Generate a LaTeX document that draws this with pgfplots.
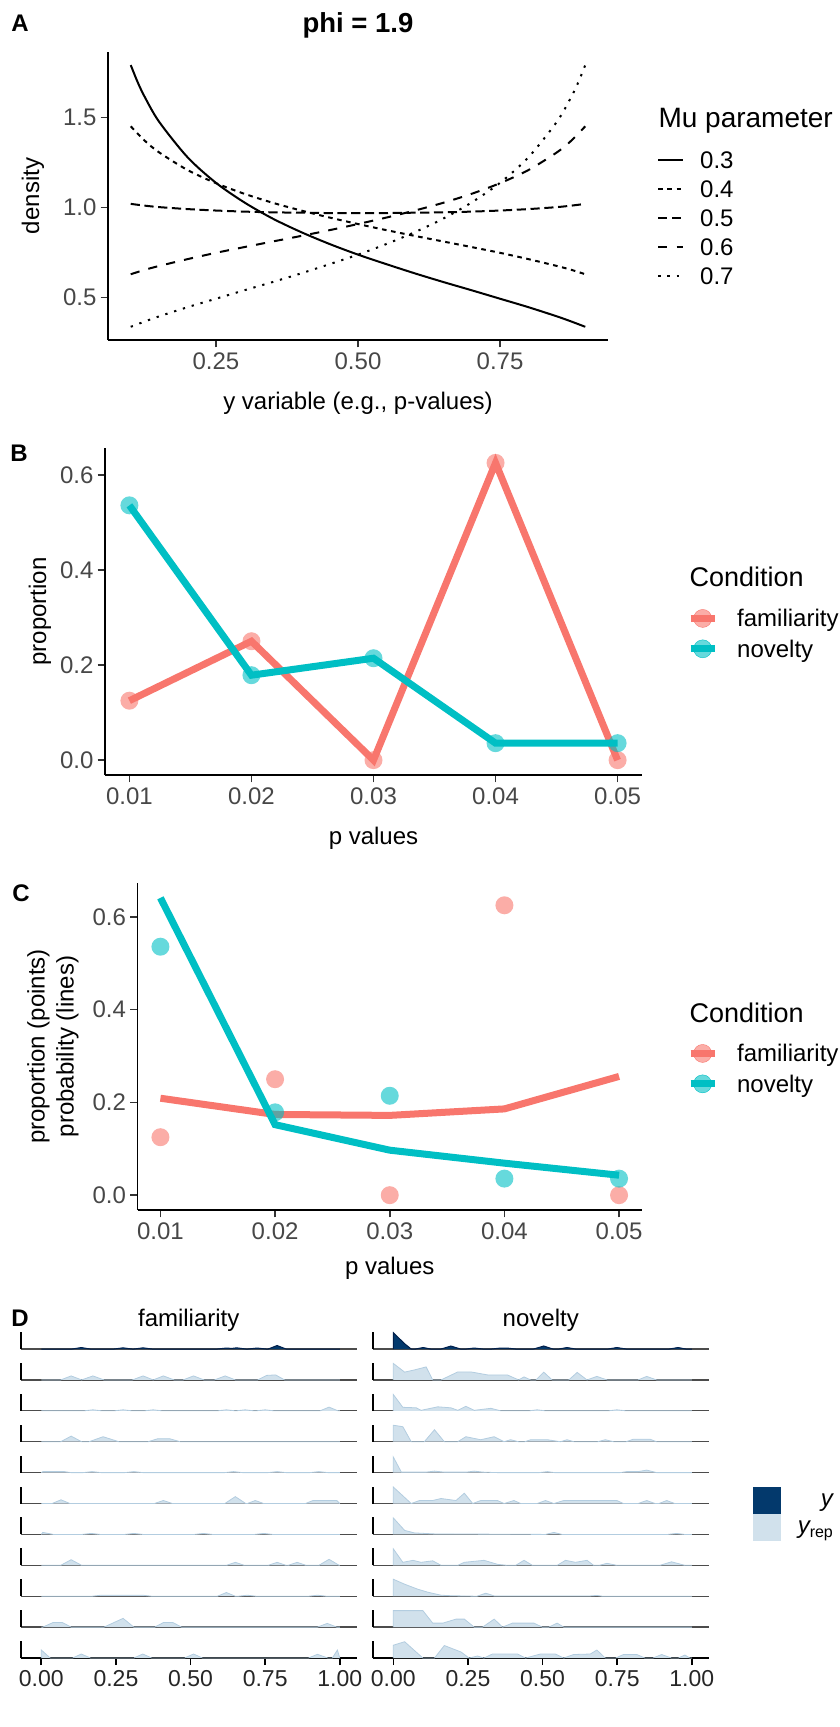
\documentclass[border=0pt]{standalone}
\usepackage{fontspec}
\setmainfont{Liberation Sans}
\usepackage{pgfplots}
\pgfplotsset{compat=1.18}

\definecolor{fam}{HTML}{F8766D}
\definecolor{nov}{HTML}{00BFC4}
\definecolor{bdark}{HTML}{03396C}
\definecolor{bdarkhi}{HTML}{011F4B}
\definecolor{blight}{HTML}{D1E1EC}
\definecolor{blighthi}{HTML}{B3CDE0}

\newcommand{\ftick}{\fontsize{24}{29}\selectfont}
\newcommand{\ftag}{\bfseries\fontsize{24}{29}\selectfont}

\pgfplotsset{
  gg/.style={
    scale only axis, anchor=south west, clip=false, scaled ticks=false,
    axis x line*=bottom, axis y line*=left,
    axis line style={-, line width=1.6pt, black},
    tick align=outside, major tick length=7.3pt,
    tick style={line width=1.6pt, black!80},
    tick label style={font=\ftick, text=black!72},
    xticklabel style={inner sep=0pt, yshift=-5pt},
    yticklabel style={inner sep=0pt, xshift=-4pt},
    label style={font=\ftick},
  },
  pts/.style={only marks, mark=*, mark size=9pt, #1,
    mark options={fill=#1, fill opacity=0.6, draw opacity=0}, forget plot},
  condkey/.style={legend image code/.code={
    \draw[#1, line width=7pt] (0pt,0pt) -- (24pt,0pt);
    \fill[#1, fill opacity=0.6] (12pt,0pt) circle (9pt);}},
  condlegend/.style={
    legend style={anchor=north west, draw=none, fill=none, inner sep=0pt,
      row sep=12pt, column sep=19pt, font=\ftick,
      nodes={inner sep=0pt, text height=17pt, text depth=0pt}},
    legend cell align=left},
  facet/.style={
    scale only axis, anchor=south west, clip=false,
    width=335.5pt, height=17pt, xmin=-0.068, xmax=1.056, ymin=0, ymax=17,
    axis x line*=bottom, axis y line*=left,
    axis line style={-},
    x axis line style={-, line width=1.3pt, color=black!70},
    y axis line style={-, line width=2pt, color=black},
    xtick=\empty, ytick=\empty},
  bottomrow/.style={
    x axis line style={-, line width=1.8pt, color=black},
    xtick={0,0.25,0.5,0.75,1}, xticklabels={0.00,0.25,0.50,0.75,1.00},
    tick align=outside, major tick length=7pt,
    tick style={line width=1.6pt, black},
    xticklabel style={font=\fontsize{23}{27}\selectfont, text=black!85, inner sep=0pt, yshift=-5pt}},
  striptitle/.style={title style={font=\ftick, at={(axis description cs:0.5,1)}, anchor=base}},
  yrep/.style={fill=blight, draw=blighthi, line width=0.8pt},
  yobs/.style={fill=bdark, draw=bdarkhi, line width=1pt},
}

\begin{document}
\begin{tikzpicture}
\path[use as bounding box] (0pt,0pt) rectangle (839pt,-1727pt);

% ---------------- panel tags and legend titles
\node[font=\ftag, anchor=base] at (20pt,-31.6pt) {A};
\node[font=\ftag, anchor=base] at (19pt,-461.6pt) {B};
\node[font=\ftag, anchor=base] at (21pt,-901.6pt) {C};
\node[font=\ftag, anchor=base] at (20pt,-1326.6pt) {D};
\node[font=\fontsize{28}{33}\selectfont, anchor=base west] at (655pt,-127pt) {Mu parameter};
\node[font=\fontsize{27}{32}\selectfont, anchor=base west] at (686pt,-586.7pt) {Condition};
\node[font=\fontsize{27}{32}\selectfont, anchor=base west] at (686pt,-1022.7pt) {Condition};

% ---------------- A: beta densities, phi = 1.9
\begin{axis}[gg, at={(108pt,-340pt)}, width=500pt, height=288pt,
  xmin=0.06, xmax=0.94, ymin=0.2637, ymax=1.8637,
  xtick={0.25,0.5,0.75}, xticklabels={0.25,0.50,0.75},
  ytick={0.5,1,1.5}, yticklabels={0.5,1.0,1.5},
  xlabel={y variable (e.g., p-values)}, ylabel={density},
  xlabel style={at={(axis description cs:0.5,-0.219)}, anchor=center},
  ylabel style={at={(axis description cs:-0.15,0.5)}, anchor=center},
  title={phi = 1.9},
  title style={font=\bfseries\fontsize{27.5}{33}\selectfont, at={(axis description cs:0.5,1)}, anchor=base, yshift=14pt},
  legend style={at={(axis description cs:1.098,0.6545)}, anchor=north west, draw=none, fill=none,
    inner sep=0pt, row sep=12pt, column sep=16pt, font=\ftick,
    nodes={inner sep=0pt, text height=17pt, text depth=0pt}},
  legend cell align=left,
  legend image code/.code={\draw[#1] (0pt,0pt) -- (25pt,0pt);},
]
\addplot[black, line width=2pt, smooth] coordinates {
(0.1,1.791)(0.1125,1.694)(0.125,1.612)(0.15,1.476)(0.2,1.279)(0.25,1.137)(0.3,1.028)(0.35,0.938)(0.4,0.863)(0.45,0.797)(0.5,0.738)(0.55,0.685)(0.6,0.634)(0.65,0.586)(0.7,0.540)(0.75,0.493)(0.8,0.446)(0.85,0.395)(0.875,0.367)(0.9,0.337)};
\addlegendentry{0.3}
\addplot[black, line width=2pt, smooth, dash pattern=on 4.6pt off 4.6pt] coordinates {
(0.1,1.451)(0.125,1.370)(0.15,1.306)(0.2,1.208)(0.25,1.135)(0.3,1.076)(0.35,1.026)(0.4,0.983)(0.45,0.944)(0.5,0.908)(0.55,0.874)(0.6,0.842)(0.65,0.811)(0.7,0.780)(0.75,0.748)(0.8,0.713)(0.85,0.675)(0.875,0.654)(0.9,0.629)};
\addlegendentry{0.4}
\addplot[black, line width=2pt, smooth, dash pattern=on 9.2pt off 4.6pt] coordinates {
(0.1,1.020)(0.125,1.010)(0.15,1.002)(0.2,0.991)(0.25,0.983)(0.3,0.977)(0.35,0.973)(0.4,0.971)(0.45,0.969)(0.5,0.969)(0.55,0.969)(0.6,0.971)(0.65,0.973)(0.7,0.977)(0.75,0.983)(0.8,0.991)(0.85,1.002)(0.875,1.010)(0.9,1.020)};
\addlegendentry{0.5}
\addplot[black, line width=2pt, smooth, dash pattern=on 9.2pt off 9.2pt] coordinates {
(0.1,0.629)(0.125,0.654)(0.15,0.675)(0.2,0.713)(0.25,0.748)(0.3,0.780)(0.35,0.811)(0.4,0.842)(0.45,0.874)(0.5,0.908)(0.55,0.944)(0.6,0.983)(0.65,1.026)(0.7,1.076)(0.75,1.135)(0.8,1.208)(0.85,1.306)(0.875,1.370)(0.9,1.451)};
\addlegendentry{0.6}
\addplot[black, line width=2pt, smooth, dash pattern=on 2.3pt off 6.9pt] coordinates {
(0.1,0.337)(0.125,0.367)(0.15,0.395)(0.2,0.446)(0.25,0.493)(0.3,0.540)(0.35,0.586)(0.4,0.634)(0.45,0.685)(0.5,0.738)(0.55,0.797)(0.6,0.863)(0.65,0.938)(0.7,1.028)(0.75,1.137)(0.8,1.279)(0.85,1.476)(0.875,1.612)(0.8875,1.694)(0.9,1.791)};
\addlegendentry{0.7}
\end{axis}

% ---------------- B: observed proportions
\begin{axis}[gg, at={(105pt,-775pt)}, width=537pt, height=327pt,
  xmin=0.008, xmax=0.052, ymin=-0.03125, ymax=0.65625,
  xtick={0.01,0.02,0.03,0.04,0.05}, xticklabels={0.01,0.02,0.03,0.04,0.05},
  ytick={0,0.2,0.4,0.6}, yticklabels={0.0,0.2,0.4,0.6},
  xlabel={p values}, ylabel={proportion},
  xlabel style={at={(axis description cs:0.5,-0.193)}, anchor=center},
  ylabel style={at={(axis description cs:-0.121,0.5)}, anchor=center},
  condlegend, legend style={at={(axis description cs:1.0838,0.5076)}},
]
\addplot[fam, line width=7pt, forget plot] coordinates {(0.01,0.125)(0.02,0.25)(0.03,0)(0.04,0.625)(0.05,0)};
\addplot[nov, line width=7pt, forget plot] coordinates {(0.01,0.5357)(0.02,0.1786)(0.03,0.2143)(0.04,0.0357)(0.05,0.0357)};
\addplot[pts=fam] coordinates {(0.01,0.125)(0.02,0.25)(0.03,0)(0.04,0.625)(0.05,0)};
\addplot[pts=nov] coordinates {(0.01,0.5357)(0.02,0.1786)(0.03,0.2143)(0.04,0.0357)(0.05,0.0357)};
\addlegendimage{condkey=fam}\addlegendentry{familiarity}
\addlegendimage{condkey=nov}\addlegendentry{novelty}
\end{axis}

% ---------------- C: proportions (points) and model probabilities (lines)
\begin{axis}[gg, at={(137.5pt,-1210pt)}, width=504.5pt, height=327pt,
  xmin=0.008, xmax=0.052, ymin=-0.032, ymax=0.673,
  xtick={0.01,0.02,0.03,0.04,0.05}, xticklabels={0.01,0.02,0.03,0.04,0.05},
  ytick={0,0.2,0.4,0.6}, yticklabels={0.0,0.2,0.4,0.6},
  xlabel={p values}, ylabel={proportion (points)\\probability (lines)},
  xlabel style={at={(axis description cs:0.5,-0.177)}, anchor=center},
  ylabel style={at={(axis description cs:-0.1675,0.5)}, anchor=center, align=center},
  condlegend, legend style={at={(axis description cs:1.089,0.5076)}},
]
\addplot[pts=fam] coordinates {(0.01,0.125)(0.02,0.25)(0.03,0)(0.04,0.625)(0.05,0)};
\addplot[pts=nov] coordinates {(0.01,0.5357)(0.02,0.1786)(0.03,0.2143)(0.04,0.0357)(0.05,0.0357)};
\addplot[fam, line width=7pt, forget plot] coordinates {(0.01,0.209)(0.02,0.174)(0.03,0.172)(0.04,0.186)(0.05,0.256)};
\addplot[nov, line width=7pt, forget plot] coordinates {(0.01,0.641)(0.02,0.152)(0.03,0.097)(0.04,0.069)(0.05,0.043)};
\addlegendimage{condkey=fam}\addlegendentry{familiarity}
\addlegendimage{condkey=nov}\addlegendentry{novelty}
\end{axis}

% ---------------- D: posterior predictive frequency polygons (familiarity)
\begin{axis}[facet, at={(21pt,-1349pt)}, title={familiarity}, striptitle]
\addplot[yobs] coordinates {(0,0)(0.104,0)(0.134,1.5)(0.164,0)(0.244,0)(0.274,1.2)(0.304,0)(0.311,0)(0.341,1.2)(0.371,0)(0.59,0)(0.62,1)(0.638,0.6)(0.655,1.2)(0.685,0)(0.693,0)(0.723,1)(0.753,0)(0.76,0)(0.79,3.5)(0.82,0)(1,0)};
\end{axis}
\begin{axis}[facet, at={(21pt,-1379.9pt)}]
\addplot[yrep] coordinates {(0,0)(0.065,0)(0.10,4)(0.135,0)(0.173,4)(0.21,0)(0.305,0)(0.341,4)(0.375,0)(0.409,4)(0.445,0)(0.475,0)(0.51,4)(0.545,0)(0.58,0)(0.616,4)(0.65,0)(0.725,0)(0.755,4.5)(0.785,5)(0.815,0)(1,0)};
\end{axis}
\begin{axis}[facet, at={(21pt,-1410.8pt)}]
\addplot[yrep] coordinates {(0,0)(0.143,0)(0.173,1)(0.203,0)(0.244,0)(0.274,1)(0.304,0)(0.345,0)(0.375,1)(0.405,0)(0.59,0)(0.62,1)(0.65,0)(0.653,0)(0.683,1)(0.713,0)(0.72,0)(0.75,1)(0.78,0)(0.934,0)(0.964,3.7)(0.994,0)(1,0)};
\end{axis}
\begin{axis}[facet, at={(21pt,-1441.7pt)}]
\addplot[yrep] coordinates {(0,0)(0.065,0)(0.10,5.6)(0.135,0)(0.16,0)(0.207,5)(0.26,0)(0.358,0)(0.39,3)(0.43,3)(0.465,0)(1,0)};
\end{axis}
\begin{axis}[facet, at={(21pt,-1472.6pt)}]
\addplot[yrep] coordinates {(0,0)(0.005,1)(0.077,1)(0.10,0)(0.14,0)(0.17,1)(0.20,0)(0.28,0)(0.31,1)(0.34,0)(0.614,0)(0.644,1)(0.674,0)(0.76,0)(0.79,1)(0.82,0)(0.90,0)(0.93,1)(0.96,0)(1,0)};
\end{axis}
\begin{axis}[facet, at={(21pt,-1503.5pt)}]
\addplot[yrep] coordinates {(0,0)(0.036,0)(0.066,3.7)(0.096,0)(0.379,0)(0.409,3)(0.439,0)(0.615,0)(0.65,6.9)(0.685,0)(0.69,0)(0.717,3)(0.745,0)(0.885,0)(0.91,3)(0.99,3)(1,0)};
\end{axis}
\begin{axis}[facet, at={(21pt,-1534.4pt)}]
\addplot[yrep] coordinates {(0,0)(0.005,2)(0.04,0)(0.137,0)(0.167,1)(0.197,0)(0.28,0)(0.31,1)(0.34,0)(0.513,0)(0.543,1)(0.573,0)(0.715,0)(0.745,1)(0.775,0)(1,0)};
\end{axis}
\begin{axis}[facet, at={(21pt,-1565.3pt)}]
\addplot[yrep] coordinates {(0,0)(0.065,0)(0.10,5.6)(0.135,0)(0.62,0)(0.65,3)(0.68,0)(0.76,0)(0.79,3)(0.82,0)(0.827,0)(0.857,3)(0.887,0)(0.93,0)(0.964,6)(0.998,0)(1,0)};
\end{axis}
\begin{axis}[facet, at={(21pt,-1596.2pt)}]
\addplot[yrep] coordinates {(0,0)(0.17,0)(0.20,1)(0.34,1)(0.37,0)(0.59,0)(0.62,3.7)(0.65,0)(0.66,0)(0.69,1)(0.72,0)(0.895,0)(0.925,1)(0.955,0)(1,0)};
\end{axis}
\begin{axis}[facet, at={(21pt,-1627.1pt)}]
\addplot[yrep] coordinates {(0,0)(0.005,0)(0.04,4.7)(0.07,4.7)(0.10,0)(0.21,0)(0.274,8.75)(0.31,0)(0.38,0)(0.41,4.7)(0.44,4.7)(0.47,0)(0.925,0)(0.958,3.7)(0.99,0)(1,0)};
\end{axis}
\begin{axis}[facet, bottomrow, at={(21pt,-1658pt)}]
\addplot[yrep] coordinates {(0,0)(0,8)(0.03,0)(0.105,0)(0.134,4)(0.165,0)(0.31,0)(0.34,4)(0.37,0)(0.48,0)(0.51,4)(0.54,0)(0.895,0)(0.925,3.7)(0.96,0)(0.975,0)(0.992,8)(1,0)};
\end{axis}

% ---------------- D: novelty
\begin{axis}[facet, at={(373pt,-1349pt)}, title={novelty}, striptitle]
\addplot[yobs] coordinates {(0,0)(0,16.3)(0.038,5.3)(0.06,0)(0.075,0)(0.1,1.5)(0.125,0)(0.16,0)(0.193,3)(0.225,0)(0.245,0)(0.271,1)(0.3,0)(0.33,0)(0.36,1)(0.38,1)(0.41,0)(0.47,0)(0.504,3)(0.535,0)(0.555,0)(0.582,1.5)(0.61,0)(0.72,0)(0.749,1.5)(0.78,0)(0.925,0)(0.954,1.5)(0.98,0)(1,0)};
\end{axis}
\begin{axis}[facet, at={(373pt,-1379.9pt)}]
\addplot[yrep] coordinates {(0,0)(0,16.5)(0.038,7.8)(0.071,10)(0.11,13)(0.132,0)(0.16,0)(0.216,8)(0.26,8)(0.316,5)(0.382,5)(0.42,0)(0.438,3)(0.46,0)(0.478,0)(0.504,7.8)(0.532,0)(0.588,0)(0.616,7.5)(0.649,0)(0.682,3.5)(0.716,0)(0.82,0)(0.849,3.5)(0.882,0)(1,0)};
\end{axis}
\begin{axis}[facet, at={(373pt,-1410.8pt)}]
\addplot[yrep] coordinates {(0,0)(0,16.3)(0.032,3.5)(0.077,3)(0.093,0.5)(0.149,4)(0.193,3)(0.216,0.5)(0.243,4.5)(0.271,0.5)(0.327,2.5)(0.36,0)(0.455,0)(0.482,1)(0.51,0)(0.72,0)(0.749,1)(0.78,0)(1,0)};
\end{axis}
\begin{axis}[facet, at={(373pt,-1441.7pt)}]
\addplot[yrep] coordinates {(0,0)(0,16.5)(0.032,15)(0.06,0)(0.104,0)(0.138,12)(0.171,0)(0.216,0)(0.243,5)(0.293,2)(0.338,5)(0.371,0)(0.393,2)(0.42,0)(0.44,0)(0.46,2)(0.516,2)(0.56,0)(0.582,2)(0.605,0)(0.685,0)(0.71,2)(0.738,0)(0.78,0)(0.804,2.5)(0.86,2.5)(0.882,0)(1,0)};
\end{axis}
\begin{axis}[facet, at={(373pt,-1472.6pt)}]
\addplot[yrep] coordinates {(0,0)(0,15.6)(0.027,0.5)(0.11,0.5)(0.138,1.5)(0.17,0.5)(0.245,0.5)(0.271,1.5)(0.3,0.5)(0.35,0)(0.49,0)(0.516,1)(0.54,0)(0.76,0)(0.782,1)(0.82,1)(0.849,2.5)(0.882,0)(1,0)};
\end{axis}
\begin{axis}[facet, at={(373pt,-1503.5pt)},
  legend style={at={(axis description cs:1.1313,0.9706)}, anchor=north west, draw=none, fill=none,
    inner sep=0pt, row sep=0pt, column sep=17pt, font=\ftick, nodes={inner sep=0pt}},
  legend cell align=right,
  legend image code/.code={\fill[#1] (0pt,-13.5pt) rectangle (28pt,13.5pt);}]
\addlegendimage{fill=bdark, draw=none}\addlegendentry{\itshape y}
\addlegendimage{fill=blight, draw=none}\addlegendentry{{\itshape y}\raisebox{-4pt}{\fontsize{16}{16}\selectfont rep}}
\addplot[yrep, forget plot] coordinates {(0,0)(0,16.5)(0.06,0)(0.088,3)(0.132,3)(0.16,5)(0.21,3)(0.238,10.3)(0.266,0)(0.293,3)(0.349,3)(0.371,0)(0.404,3)(0.427,0)(0.482,0)(0.51,3)(0.538,0)(0.571,3)(0.749,3)(0.771,0)(0.82,0)(0.849,3)(0.877,0)(0.89,0)(0.916,3)(0.943,0)(1,0)};
\end{axis}
\begin{axis}[facet, at={(373pt,-1534.4pt)}]
\addplot[yrep] coordinates {(0,0)(0,16.5)(0.038,4)(0.071,1.5)(0.138,0.5)(0.3,0.3)(0.51,0)(0.538,2)(0.565,0)(0.92,0)(0.949,1)(0.975,0)(1,0)};
\end{axis}
\begin{axis}[facet, at={(373pt,-1565.3pt)}]
\addplot[yrep] coordinates {(0,0)(0,16.5)(0.032,3)(0.066,5)(0.093,3)(0.132,4.5)(0.16,0)(0.216,0)(0.238,3)(0.304,5)(0.349,1)(0.382,0)(0.41,0)(0.438,5)(0.466,0)(0.549,0)(0.577,5)(0.61,3)(0.649,5)(0.671,0)(0.69,0)(0.716,2)(0.749,0)(0.893,0)(0.932,3.5)(0.977,0)(1,0)};
\end{axis}
\begin{axis}[facet, at={(373pt,-1596.2pt)}]
\addplot[yrep] coordinates {(0,0)(0,17)(0.038,12)(0.082,7)(0.116,4)(0.16,1)(0.193,0.5)(0.28,0)(0.31,3)(0.338,0.3)(0.66,0.3)(0.682,0.8)(0.7,0)(1,0)};
\end{axis}
\begin{axis}[facet, at={(373pt,-1627.1pt)}]
\addplot[yrep] coordinates {(0,0)(0,16.5)(0.099,16.5)(0.132,4)(0.166,4)(0.21,8)(0.238,8)(0.271,0)(0.299,0)(0.338,8)(0.366,0)(0.399,4)(0.471,4)(0.499,0)(0.521,0)(0.549,4)(0.571,0)(1,0)};
\end{axis}
\begin{axis}[facet, bottomrow, at={(373pt,-1658pt)}]
\addplot[yrep] coordinates {(0,0)(0,12.8)(0.038,16.3)(0.099,0)(0.138,0)(0.171,12.5)(0.227,6)(0.254,0)(0.282,2)(0.304,0)(0.332,4)(0.416,4)(0.443,0)(0.493,4)(0.543,4)(0.571,0)(0.604,3.5)(0.66,4)(0.682,8)(0.71,0)(0.745,0)(0.771,3.5)(0.816,3.5)(0.843,0)(0.87,0)(0.899,3.5)(0.932,0)(0.955,0)(0.977,3)(0.993,0)(1,0)};
\end{axis}
\end{tikzpicture}
\end{document}
